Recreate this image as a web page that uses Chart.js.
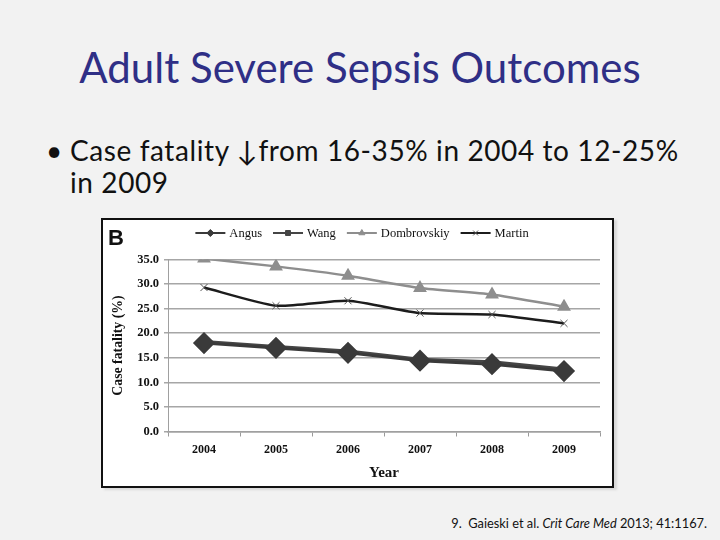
<!DOCTYPE html>
<html>
<head>
<meta charset="utf-8">
<script src="https://cdn.jsdelivr.net/npm/chart.js@4.4.0/dist/chart.umd.min.js"></script>
<style>
  body { margin: 0; width: 720px; height: 540px; background: #f2f2f2; position: relative; overflow: hidden; font-family: Lato, sans-serif; }
  #title { position: absolute; left: 0; top: 42px; width: 720px; text-align: center; color: #2f2f86; font-size: 42px; white-space: nowrap; }
  #bullet { position: absolute; left: 70px; top: 134px; width: 650px; font-size: 28px; line-height: 32px; letter-spacing: 0.6px; color: #111; white-space: nowrap; }
  #bullet .dot { position: absolute; left: -24px; top: 0; letter-spacing: 0; }
  #frame { position: absolute; left: 101px; top: 218px; width: 513px; height: 270px; box-sizing: border-box; border: 2px solid #111; background: #fff; box-shadow: 3px 2px 2px #d8d8d8; }
  #frame canvas { position: absolute; left: 0; top: 0; }
  #panel { position: absolute; left: 5px; top: 5px; font: bold 22px "Liberation Sans", Arial, sans-serif; color: #111; }
  #cite { position: absolute; right: 13px; top: 515px; font-size: 12.8px; color: #111; white-space: nowrap; }
</style>
</head>
<body>
<div id="title">Adult Severe Sepsis Outcomes</div>
<div id="bullet"><span class="dot">•</span>Case fatality ↓from 16-35% in 2004 to 12-25%<br>in 2009</div>
<div id="frame">
  <div style="position:relative;width:509px;height:266px">
    <canvas id="sepsisChart"></canvas>
  </div>
  <div id="panel">B</div>
</div>
<div id="cite">9.&nbsp; Gaieski et al. <i>Crit Care Med</i> 2013; 41:1167.</div>

<script>
// Data (case fatality %, by year)
const years = ['2004', '2005', '2006', '2007', '2008', '2009'];
const angus = [18.0, 17.0, 16.0, 14.4, 13.7, 12.3];
const wang = [18.3, 17.3, 16.4, 14.7, 14.2, 12.7];
const dombrovskiy = [35.2, 33.6, 31.7, 29.2, 27.9, 25.4];
const martin = [29.3, 25.6, 26.6, 24.1, 23.8, 22.0];

const yMin = 0;
const yMax = 35;
const yStep = 5;

const serif = '"Liberation Serif", "Times New Roman", serif';

// Legend across the top, drawn like the Excel one (line + marker + name)
const topLegend = {
  id: 'topLegend',
  afterDraw(chart) {
    const ctx = chart.ctx;
    const lineLen = 30;
    const gap = 11;
    const cy = 13;
    ctx.save();
    ctx.font = '12.5px ' + serif;
    const items = chart.data.datasets.map(ds => ({
      ds: ds,
      w: lineLen + 4 + ctx.measureText(ds.label).width
    }));
    const total = items.reduce((s, it) => s + it.w, 0) + gap * (items.length - 1);
    let x = 259 - total / 2;
    items.forEach(it => {
      const ds = it.ds;
      ctx.strokeStyle = ds.borderColor;
      ctx.lineWidth = 2;
      ctx.beginPath();
      ctx.moveTo(x, cy);
      ctx.lineTo(x + lineLen, cy);
      ctx.stroke();
      ctx.fillStyle = ds.pointBackgroundColor;
      ctx.strokeStyle = ds.pointBorderColor;
      ctx.lineWidth = 1;
      Chart.helpers.drawPoint(ctx, { pointStyle: ds.pointStyle, radius: 3.5, rotation: 0, borderWidth: 1 }, x + lineLen / 2, cy);
      ctx.fillStyle = '#111';
      ctx.textBaseline = 'middle';
      ctx.textAlign = 'left';
      ctx.fillText(ds.label, x + lineLen + 4, cy + 1);
      x += it.w + gap;
    });
    ctx.restore();
  }
};

const ctx = document.getElementById('sepsisChart').getContext('2d');

const sepsisChart = new Chart(ctx, {
  type: 'line',
  data: {
    labels: years,
    datasets: [
      {
        label: 'Angus',
        data: angus,
        borderColor: '#3a3a3a',
        borderWidth: 3,
        pointStyle: 'rectRot',
        pointRadius: 9,
        pointBackgroundColor: '#3a3a3a',
        pointBorderColor: '#3a3a3a',
        tension: 0
      },
      {
        label: 'Wang',
        data: wang,
        borderColor: '#454545',
        borderWidth: 3,
        pointStyle: 'rect',
        pointRadius: 4,
        pointBackgroundColor: '#454545',
        pointBorderColor: '#454545',
        tension: 0
      },
      {
        label: 'Dombrovskiy',
        data: dombrovskiy,
        borderColor: '#8e8e8e',
        borderWidth: 2.5,
        pointStyle: 'triangle',
        pointRadius: 5.5,
        pointBackgroundColor: '#8e8e8e',
        pointBorderColor: '#8e8e8e',
        tension: 0.2
      },
      {
        label: 'Martin',
        data: martin,
        borderColor: '#1c1c1c',
        borderWidth: 2.5,
        pointStyle: 'crossRot',
        pointRadius: 5,
        pointBorderWidth: 1,
        pointBackgroundColor: '#555',
        pointBorderColor: '#555',
        tension: 0.2
      }
    ]
  },
  options: {
    responsive: true,
    maintainAspectRatio: false,
    animation: false,
    layout: { padding: { top: 39.5, right: 6, left: 0, bottom: 0 } },
    plugins: {
      legend: { display: false },
      tooltip: { enabled: false }
    },
    scales: {
      x: {
        offset: true,
        grid: { display: true, drawOnChartArea: false, offset: true, tickLength: 5, color: '#9a9a9a', lineWidth: 1 },
        border: { color: '#a0a0a0', width: 1.5 },
        ticks: { color: '#111', padding: 6, font: { family: serif, size: 12, weight: 'bold' }, maxRotation: 0 },
        title: { display: true, text: 'Year', color: '#111', padding: { top: 0, bottom: 4 }, font: { family: serif, size: 15, weight: 'bold' } },
        afterFit(scale) { scale.height = 54.5; }
      },
      y: {
        min: yMin,
        max: yMax,
        grid: { color: '#a6a6a6', lineWidth: 1.5, tickLength: 4 },
        border: { color: '#a0a0a0', width: 1 },
        ticks: {
          stepSize: yStep,
          color: '#111',
          padding: 5,
          font: { family: serif, size: 12.5, weight: 'bold' },
          callback: v => v.toFixed(1)
        },
        title: { display: true, text: 'Case fatality (%)', color: '#111', padding: { top: 7, bottom: 0 }, font: { family: serif, size: 13.8, weight: 'bold' } },
        afterFit(scale) { scale.width = 65; }
      }
    }
  },
  plugins: [topLegend]
});
</script>
</body>
</html>
